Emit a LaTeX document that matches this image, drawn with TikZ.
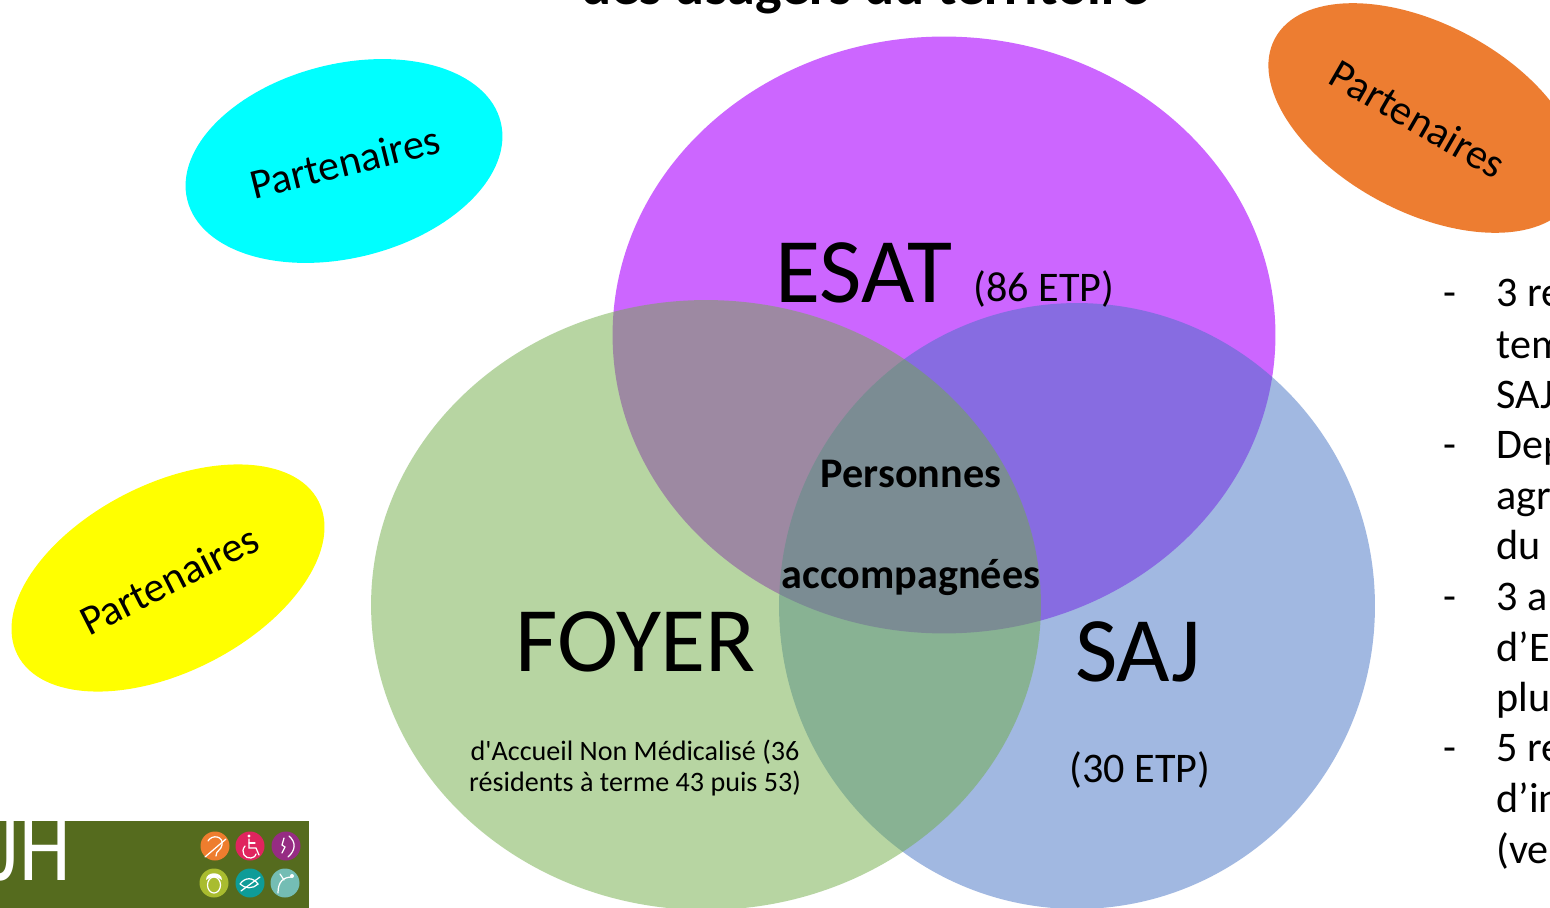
\documentclass[tikz,border=0pt]{standalone}
\usepackage{graphicx}
\usepackage{fontspec}
\setmainfont{Carlito}
\usetikzlibrary{shapes.geometric}
\definecolor{esatpurple}{HTML}{CC66FF}
\definecolor{foyergreen}{HTML}{70AD47}
\definecolor{sajblue}{HTML}{4472C4}
\definecolor{logogreen}{HTML}{556B1E}
\definecolor{partcyan}{HTML}{00FFFF}
\definecolor{partyellow}{HTML}{FFFF00}
\definecolor{partorange}{HTML}{ED7D31}
\definecolor{iconorange}{HTML}{EE7D2E}
\definecolor{iconred}{HTML}{E0245E}
\definecolor{iconviolet}{HTML}{962C83}
\definecolor{iconlime}{HTML}{A9BC2F}
\definecolor{iconteal}{HTML}{0E9C98}
\definecolor{iconpale}{HTML}{74BDB4}
\tikzset{
  venn/.style={ellipse,inner sep=0pt},
  partner/.style={ellipse,inner sep=0pt,minimum width=6.46cm,minimum height=3.88cm},
  parttext/.style={font=\fontsize{24}{28}\selectfont},
  bigtext/.style={font=\fontsize{52.5}{60}\selectfont},
  midtext/.style={font=\fontsize{24}{28}\selectfont},
  boldtext/.style={font=\fontsize{24}{28}\selectfont\bfseries},
  listtext/.style={font=\fontsize{24}{28}\selectfont,anchor=base west,inner sep=0pt},
  icon/.style={circle,inner sep=0pt,minimum size=0.58cm},
  glyph/.style={draw=white,line width=0.7pt,line cap=round}
}
\begin{document}
\begin{tikzpicture}[x=0.02cm,y=-0.02cm]
\useasboundingbox (0,0) rectangle (1550,908);
\fill[white] (0,0) rectangle (1550,908);

% Title, cut by the top edge
\node[font=\fontsize{32}{36}\selectfont\bfseries,anchor=base,inner sep=0pt] (title) at (865,5) {des usagers du territoire};

% Three overlapping services
\node[venn,fill=esatpurple,minimum width=13.26cm,minimum height=11.94cm] (esat) at (944,335) {};
\node[venn,fill=sajblue,fill opacity=0.5,minimum width=11.92cm,minimum height=12.12cm] (saj) at (1077,606) {};
\node[venn,fill=foyergreen,fill opacity=0.5,minimum width=13.40cm,minimum height=12.20cm] (foyer) at (706,605) {};

% Partners
\node[partner,fill=partcyan,rotate=14] (partA) at (344,161) {};
\node[parttext,rotate=14] (partAtext) at (345,162) {Partenaires};
\node[partner,fill=partyellow,minimum width=6.76cm,minimum height=3.76cm,rotate=27] (partB) at (168,578) {};
\node[parttext,rotate=27] (partBtext) at (169,580) {Partenaires};
\node[partner,fill=partorange,minimum width=6.76cm,minimum height=3.76cm,rotate=-28] (partC) at (1424,118) {};
\node[parttext,rotate=-30] (partCtext) at (1418,119) {Partenaires};

% Service labels
\node[bigtext] (esatlabel) at (864,273) {ESAT};
\node[midtext] (esatetp) at (1044,289) {(86 ETP)};
\node[bigtext] (foyerlabel) at (636,642) {FOYER};
\node[font=\fontsize{16}{17.6}\selectfont,align=center] (foyerinfo) at (635,768) {d\textquotesingle Accueil Non Médicalisé (36\\résidents à terme 43 puis 53)};
\node[bigtext] (sajlabel) at (1138,652) {SAJ};
\node[midtext] (sajetp) at (1140,770) {(30 ETP)};
\node[boldtext] (persA) at (911,474) {Personnes};
\node[boldtext] (persB) at (911,578) {accompagnées};

% List, cut by the right edge
\foreach \y/\t in {307/3 re, 358/tem, 408/SAJ, 458/Dep, 509/agr, 559/du, 610/3 a, 661/d’E, 711/plu, 761/5 re, 812/d’in, 863/(ve} {
  \node[listtext] at (1496,\y) {\t};
}
\foreach \y in {307,458,610,761} {
  \node[listtext] at (1443,\y) {-};
}

% Logo
\fill[logogreen] (0,821) rectangle (309,908);
\begin{scope}
\clip (0,821) rectangle (309,908);
\node[font=\fontsize{47}{50}\selectfont,text=white,anchor=base east,inner sep=0pt] (logotext) at (71,880) {\scalebox{1}[1.2]{JH}};
\end{scope}
\foreach \x/\y/\c in {215/846/iconorange, 250/846/iconred, 286/846/iconviolet, 214/883/iconlime, 250/883/iconteal, 285/883/iconpale} {
  \node[icon,fill=\c] at (\x,\y) {};
}
% Icon glyphs
\draw[glyph] (208,841) .. controls (212,834) and (224,836) .. (222,845) .. controls (221,851) and (216,850) .. (216,856);
\draw[glyph] (205,857) -- (226,839);
\fill[white] (249,836) circle (1.6);
\draw[glyph] (249,839) -- (249,848) -- (256,848) -- (259,855);
\draw[glyph] (249,843) -- (255,843);
\draw[glyph] (245,846) .. controls (240,852) and (245,859) .. (251,858) .. controls (254,857.5) and (256,856) .. (256,854);
\draw[glyph] (289,836) .. controls (296,842) and (296,850) .. (288,857);
\draw[glyph] (284,838) -- (282,845) -- (285,847) -- (282,853);
\draw[glyph] (214,885) ellipse (6.5 and 8);
\fill[white] (206,880) .. controls (206,871) and (222,871) .. (222,880) .. controls (216,876) and (212,876) .. (206,880);
\draw[glyph] (240,884) .. controls (245,877) and (253,877) .. (258,884) .. controls (253,889) and (245,889) .. (240,884);
\draw[glyph] (241,891) -- (260,877);
\draw[glyph] (278,893) .. controls (278,882) and (283,877) .. (292,877);
\draw[glyph] (280,874) -- (284,880);
\fill[white] (292,876) circle (2);
\end{tikzpicture}
\end{document}
